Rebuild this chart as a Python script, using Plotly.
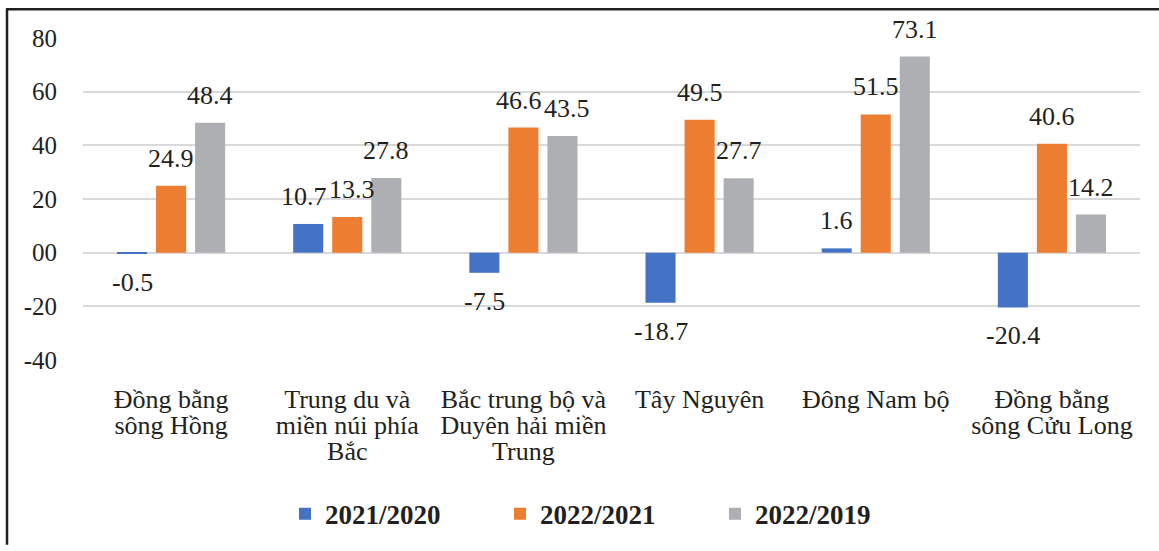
import plotly.graph_objects as go

categories = [
    "Đồng bằng<br>sông Hồng",
    "Trung du và<br>miền núi phía<br>Bắc",
    "Bắc trung bộ và<br>Duyên hải miền<br>Trung",
    "Tây Nguyên",
    "Đông Nam bộ",
    "Đồng bằng<br>sông Cửu Long",
]
series_names = ["2021/2020", "2022/2021", "2022/2019"]
v_2021_2020 = [-0.5, 10.7, -7.5, -18.7, 1.6, -20.4]
v_2022_2021 = [24.9, 13.3, 46.6, 49.5, 51.5, 40.6]
v_2022_2019 = [48.4, 27.8, 43.5, 27.7, 73.1, 14.2]
tick_vals = [-40, -20, 0, 20, 40, 60, 80]
tick_text = ["-40", "-20", "00", "20", "40", "60", "80"]

colors = ["#4472C4", "#ED7D31", "#AEAFB3"]
FONT = "Liberation Serif"
TXT = "#231F20"

all_series = [v_2021_2020, v_2022_2021, v_2022_2019]

fig = go.Figure()
for name, vals, col in zip(series_names, all_series, colors):
    fig.add_trace(go.Bar(
        x=categories, y=vals, name=name,
        marker=dict(color=col, line=dict(width=0)),
        cliponaxis=False,
    ))

# data labels, placed at each bar's value; neighbours that would collide are nudged apart
LABEL_FS = 26
SLOT = 39          # pixel distance between bars in a group
PX_PER_UNIT = 326 / 120


def text_w(s):
    w = 0.0
    for ch in s:
        w += 0.25 if ch == "." else (0.333 if ch == "-" else 0.5)
    return w * LABEL_FS


annotations = []
for j, cat in enumerate(categories):
    vals = [s[j] for s in all_series]
    texts = [f"{v:.1f}" for v in vals]
    shifts = [(i - 1) * SLOT for i in range(3)]
    for i in range(2):
        a, b = vals[i], vals[i + 1]
        same_side = (a >= 0) == (b >= 0)
        if same_side and abs(a - b) * PX_PER_UNIT < LABEL_FS:
            over = (text_w(texts[i]) + text_w(texts[i + 1])) / 2 + 2 - (shifts[i + 1] - shifts[i])
            if over > 0:
                shifts[i] -= over / 2
                shifts[i + 1] += over / 2
    for i, (v, t) in enumerate(zip(vals, texts)):
        annotations.append(dict(
            x=cat, y=v, xref="x", yref="y",
            text=t, showarrow=False,
            xshift=shifts[i],
            yanchor="bottom" if v >= 0 else "top",
            yshift=11 if v >= 0 else -12,
            font=dict(family=FONT, size=LABEL_FS, color=TXT),
        ))

# category labels: glyphs at 26px, line spacing of a 20px font (tighter, like the original)
cat_labels = [f"<span style='font-size:26px'>{c}</span>".replace(
    "<br>", "</span><br><span style='font-size:26px'>") for c in categories]

W, H = 1159, 551
L, R, T, B = 83, 19, 38, 187
pw, ph = W - L - R, H - T - B


def px(x):
    return (x - L) / pw


def py(y):
    return (H - B - y) / ph


fig.update_layout(
    width=W, height=H,
    margin=dict(l=L, r=R, t=T, b=B, pad=0),
    paper_bgcolor="white", plot_bgcolor="white",
    barmode="group", bargap=0.335, bargroupgap=0.23,
    font=dict(family=FONT, size=22, color=TXT),
    showlegend=True,
    annotations=annotations,
    legend=dict(
        orientation="h", x=px(285), xanchor="left", y=py(520), yanchor="middle",
        font=dict(family=FONT, size=27, color=TXT, weight="bold"),
        itemwidth=30, traceorder="normal",
        entrywidthmode="pixels", entrywidth=170,
    ),
    xaxis=dict(
        showgrid=False, showline=False, zeroline=False, ticks="",
        tickvals=categories, ticktext=cat_labels,
        tickfont=dict(family=FONT, size=20, color=TXT),
        automargin=False, ticklabelstandoff=27,
    ),
    yaxis=dict(
        range=[-40, 80], tickvals=tick_vals, ticktext=tick_text,
        showgrid=True, gridcolor="#D9D9D9", gridwidth=1.5,
        zeroline=True, zerolinecolor="#D9D9D9", zerolinewidth=1.5,
        showline=False, ticks="",
        tickfont=dict(family=FONT, size=25, color=TXT),
        automargin=False, ticklabelstandoff=25,
    ),
    shapes=[
        dict(type="line", xref="paper", yref="paper",
             x0=px(7), x1=px(7), y0=py(9), y1=py(551),
             line=dict(color="#231F20", width=2.5)),
        dict(type="line", xref="paper", yref="paper",
             x0=px(6), x1=px(1159), y0=py(9), y1=py(9),
             line=dict(color="#231F20", width=2.5)),
    ],
)

fig.write_html("out.html", config={"displayModeBar": False},
               post_script="document.body.style.margin='0';")
